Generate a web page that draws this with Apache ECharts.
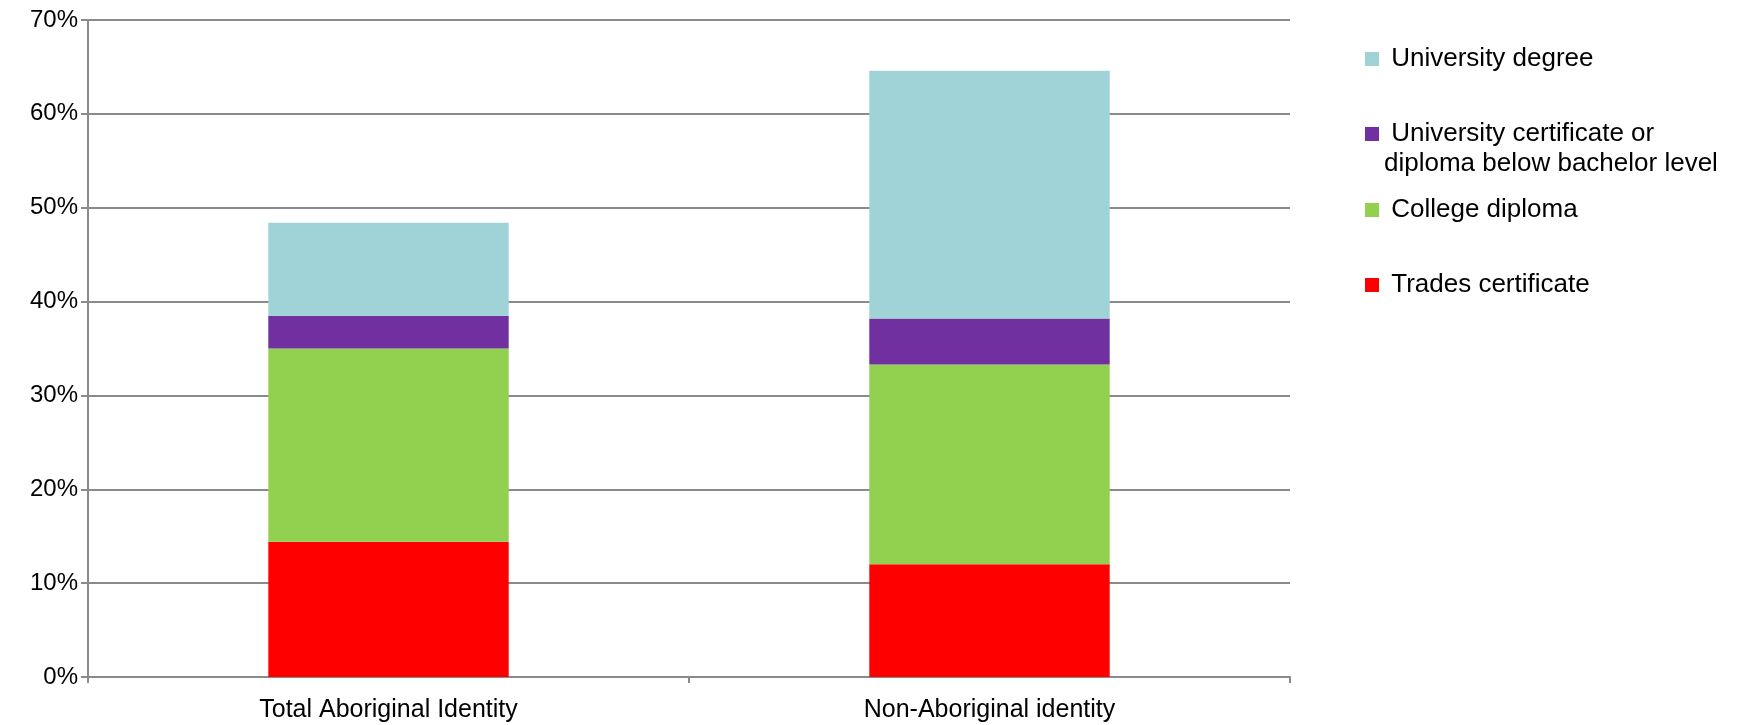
<!DOCTYPE html>
<html>
<head>
<meta charset="utf-8">
<script src="https://cdn.jsdelivr.net/npm/echarts@6/dist/echarts.min.js"></script>
<style>
html,body{margin:0;padding:0;background:#fff;}
#chart{width:1744px;height:725px;}
</style>
</head>
<body>
<div id="chart"></div>
<script>
const categories = ['Total Aboriginal Identity', 'Non-Aboriginal identity'];
const seriesNames = ['Trades certificate', 'College diploma', 'University certificate or diploma below bachelor level', 'University degree'];
const trades = [14.4, 12.0];
const college = [20.6, 21.3];
const univCert = [3.5, 4.9];
const univDegree = [9.9, 26.4];
const yTicks = [0, 10, 20, 30, 40, 50, 60, 70];

const colors = ['#ff0000', '#92d050', '#7030a0', '#9fd3d7'];
const values = [trades, college, univCert, univDegree];
const FONT = 'Liberation Sans, Arial, sans-serif';

const chart = echarts.init(document.getElementById('chart'));

function mkLegend(name, top) {
  return {
    show: true,
    orient: 'vertical',
    left: 1365,
    top: top,
    padding: 0,
    itemWidth: 14,
    itemHeight: 14,
    icon: 'rect',
    data: [name],
    selectedMode: false,
    formatter: function (n) {
      if (n === seriesNames[2]) return '\n University certificate or\ndiploma below bachelor level';
      return ' ' + n;
    },
    textStyle: {
      fontFamily: FONT,
      fontSize: 26,
      lineHeight: 30,
      color: '#000'
    }
  };
}

const option = {
  animation: false,
  backgroundColor: '#fff',
  grid: { left: 88, right: 454, top: 20, bottom: 48, containLabel: false },
  legend: [
    mkLegend(seriesNames[3], 44),
    mkLegend(seriesNames[2], 89),
    mkLegend(seriesNames[1], 195),
    mkLegend(seriesNames[0], 270)
  ],
  xAxis: {
    type: 'category',
    data: categories,
    axisLine: { show: true, lineStyle: { color: '#8a8a8a', width: 2 } },
    axisTick: { show: true, length: 6, lineStyle: { color: '#8a8a8a', width: 2 } },
    axisLabel: { color: '#000', fontFamily: FONT, fontSize: 25, margin: 21 },
    splitLine: { show: false }
  },
  yAxis: {
    type: 'value',
    min: yTicks[0],
    max: yTicks[yTicks.length - 1],
    interval: 10,
    axisLine: { show: true, lineStyle: { color: '#8a8a8a', width: 2 } },
    axisTick: { show: true, length: 7, lineStyle: { color: '#8a8a8a', width: 2 } },
    axisLabel: { color: '#000', fontFamily: FONT, fontSize: 24, margin: 10, formatter: '{value}%' },
    splitLine: { show: true, lineStyle: { color: '#8a8a8a', width: 2 } }
  },
  series: seriesNames.map(function (name, i) {
    return {
      name: name,
      type: 'bar',
      stack: 'total',
      barWidth: '40%',
      data: values[i],
      itemStyle: { color: colors[i] }
    };
  })
};
chart.setOption(option);
</script>
</body>
</html>
